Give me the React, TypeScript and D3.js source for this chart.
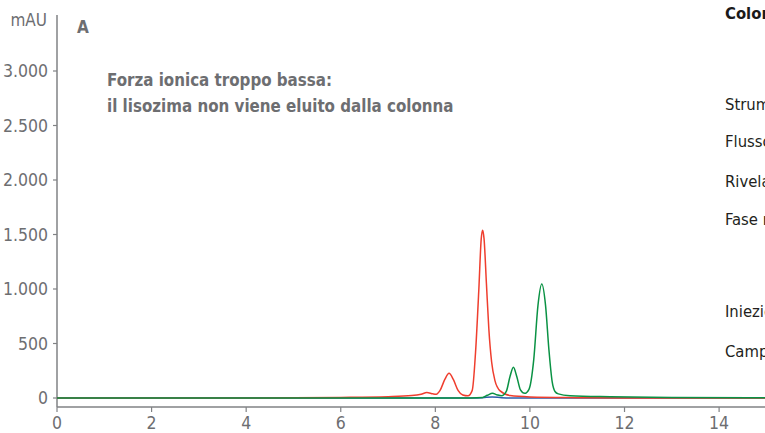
import React from "react";
import * as d3 from "d3";

const xTicks = [0, 2, 4, 6, 8, 10, 12, 14];
const yTicks = [0, 500, 1000, 1500, 2000, 2500, 3000];
const yTickLabels = ["0", "500", "1.000", "1.500", "2.000", "2.500", "3.000"];

const redT = [0, 2, 4, 5, 6, 7, 7.5, 7.7, 7.82, 7.95, 8.02, 8.1, 8.2, 8.29, 8.38, 8.48, 8.58, 8.69, 8.78, 8.85, 8.92, 8.97, 9.0, 9.03, 9.08, 9.13, 9.19, 9.26, 9.37, 9.58, 10, 11, 12, 15];
const redV = [0, 0, 0, 2, 5, 12, 22, 35, 50, 38, 35, 70, 170, 226, 170, 70, 28, 20, 70, 420, 1000, 1460, 1540, 1460, 1050, 640, 330, 160, 65, 22, 10, 3, 0, 0];

const greenT = [0, 8.5, 9.0, 9.1, 9.21, 9.3, 9.4, 9.5, 9.58, 9.65, 9.72, 9.8, 9.89, 9.98, 10.08, 10.17, 10.25, 10.33, 10.4, 10.47, 10.53, 10.6, 10.85, 11.7, 13, 15];
const greenV = [0, 0, 5, 25, 43, 30, 20, 60, 200, 282, 200, 75, 43, 80, 350, 850, 1046, 850, 450, 150, 60, 38, 21, 12, 5, 2];

const blueT = [0, 8.8, 9.0, 9.2, 9.4, 9.6, 15];
const blueV = [0, 0, 3, 10, 3, 0, 0];

const annotation = ["Forza ionica troppo bassa:", "il lisozima non viene eluito dalla colonna"];
const sideTitle = "Colonna";
const sideLabels = ["Strumento", "Flusso", "Rivelatore", "Fase mobile", "Iniezione", "Campione"];
const sideLabelY = [104, 141, 181, 219, 311, 351];

const FONT = "'Liberation Sans Narrow', 'DejaVu Sans Condensed', 'Roboto', sans-serif";
const GRAY = "#6d6e71";
const AXIS = "#808285";

export default function App() {
  const W = 765, H = 433;
  const x = d3.scaleLinear().domain([0, 15]).range([57, 766.4]);
  const y = d3.scaleLinear().domain([0, 3000]).range([398, 71]);
  const axisY = 407;

  const line = d3
    .line<[number, number]>()
    .x((d) => x(d[0]))
    .y((d) => y(d[1]))
    .curve(d3.curveMonotoneX);

  const series = [
    { t: blueT, v: blueV, color: "#2b5caa" },
    { t: redT, v: redV, color: "#ef3e2e" },
    { t: greenT, v: greenV, color: "#0a9244" },
  ];

  return (
    <svg width={W} height={H} style={{ position: "absolute", left: 0, top: 0, background: "#fff" }}>
      <rect width={W} height={H} fill="#fff" />
      <line x1={57} x2={57} y1={15} y2={axisY} stroke={AXIS} strokeWidth={1.5} />
      <line x1={57} x2={W} y1={axisY} y2={axisY} stroke={AXIS} strokeWidth={1.5} />
      {yTicks.map((v, i) => (
        <g key={"y" + v}>
          <line x1={53} x2={57} y1={y(v)} y2={y(v)} stroke={AXIS} strokeWidth={1.2} />
          <text x={48} y={y(v)} dy="0.36em" textAnchor="end" fontFamily={FONT} fontSize={17.5} fill={GRAY}>
            {yTickLabels[i]}
          </text>
        </g>
      ))}
      {xTicks.map((v) => (
        <g key={"x" + v}>
          <line x1={x(v)} x2={x(v)} y1={axisY} y2={axisY + 5} stroke={AXIS} strokeWidth={1.2} />
          <text x={x(v)} y={429} textAnchor="middle" fontFamily={FONT} fontSize={17.5} fill={GRAY}>
            {v}
          </text>
        </g>
      ))}
      <text x={47} y={26} textAnchor="end" fontFamily={FONT} fontSize={17} fill={GRAY}>mAU</text>
      <text x={77} y={33} fontFamily={FONT} fontSize={17} fontWeight="bold" fill={GRAY}>A</text>

      {series.map((s, i) => (
        <path
          key={i}
          d={line(s.t.map((t, j) => [t, s.v[j]] as [number, number])) || ""}
          fill="none"
          stroke={s.color}
          strokeWidth={1.5}
        />
      ))}

      {annotation.map((a, i) => (
        <text key={i} x={107} y={86 + i * 26} fontFamily={FONT} fontSize={16.8} fontWeight="bold" fill={GRAY}>
          {a}
        </text>
      ))}

      <text x={725} y={19} fontFamily={FONT} fontSize={16.5} fontWeight="bold" fill="#1a1a1a">{sideTitle}</text>
      {sideLabels.map((s, i) => (
        <text key={s} x={725} y={sideLabelY[i] + 6} fontFamily={FONT} fontSize={16.5} fill="#231f20">
          {s}
        </text>
      ))}
    </svg>
  );
}
